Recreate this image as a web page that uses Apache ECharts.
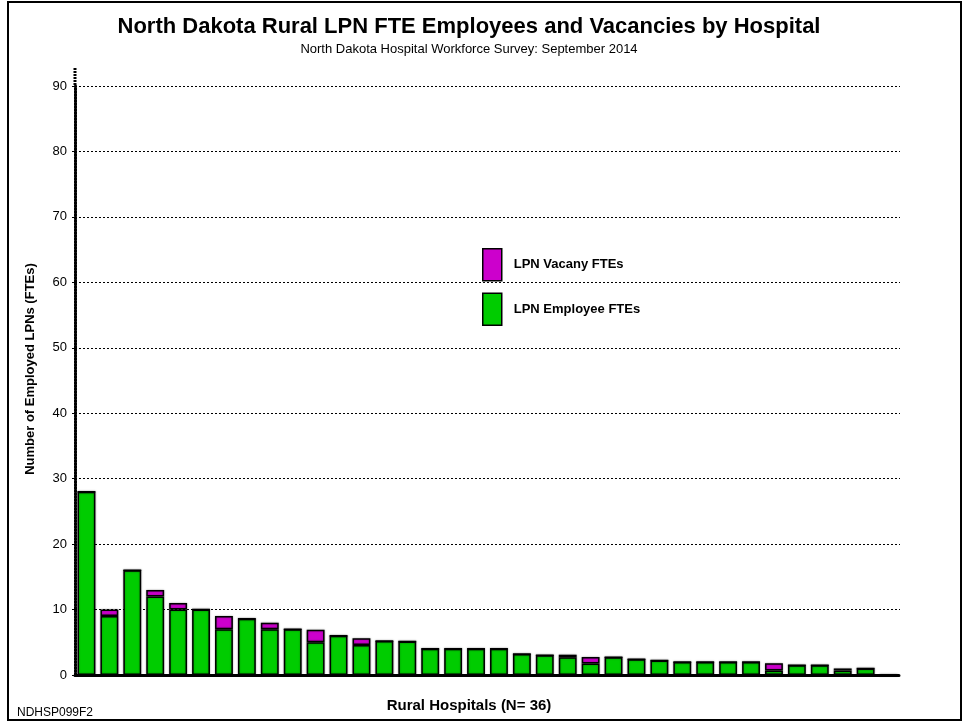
<!DOCTYPE html>
<html>
<head>
<meta charset="utf-8">
<script src="https://cdn.jsdelivr.net/npm/echarts@6/dist/echarts.min.js"></script>
<style>
	html, body { margin: 0; padding: 0; background: #fff; }
	#chart { width: 969px; height: 723px; }
</style>
</head>
<body>
<div id="chart"></div>
<script>
// 36 rural hospitals, sorted by total
const hospitals = Array.from({ length: 36 }, (_, i) => "H" + (i + 1))
const employeeFTEs = [28, 9, 16, 12, 10, 10, 7, 8.6, 7, 7, 5, 6, 4.6, 5.2, 5.1, 4, 4, 4, 4, 3.2, 3, 2.7, 1.75, 2.7, 2.4, 2.2, 2, 2, 2, 2, 0.7, 1.5, 1.5, 0.7, 1, 0]
const vacancyFTEs = [0, 1, 0, 1, 1, 0, 2, 0, 1, 0, 1.9, 0, 1, 0, 0, 0, 0, 0, 0, 0, 0, 0.4, 1, 0, 0, 0, 0, 0, 0, 0, 1.1, 0, 0, 0.3, 0, 0]
const yTicks = [0, 10, 20, 30, 40, 50, 60, 70, 80, 90]

const font = "'Liberation Sans', Arial, Helvetica, sans-serif"

const chart = echarts.init(document.getElementById("chart"))

const barStyle = color => ({
	color: color,
	borderColor: "#000",
	borderWidth: 1.5,
	shadowColor: "rgba(0, 0, 0, 0.35)",
	shadowBlur: 2
})

const option = {
	animation: false,
	backgroundColor: "#fff",
	textStyle: { fontFamily: font, color: "#000" },
	title: [
		{
			text: "North Dakota Rural LPN FTE Employees and Vacancies by Hospital",
			left: 464,
			top: 11,
			textAlign: "center",
			textStyle: { fontSize: 22, fontWeight: "bold", color: "#000", fontFamily: font }
		},
		{
			text: "North Dakota Hospital Workforce Survey: September 2014",
			left: 464,
			top: 38,
			textAlign: "center",
			textStyle: { fontSize: 13, fontWeight: "normal", color: "#000", fontFamily: font }
		},
		{
			text: "Rural Hospitals (N= 36)",
			left: 464,
			top: 693,
			textAlign: "center",
			textStyle: { fontSize: 15, fontWeight: "bold", color: "#000", fontFamily: font }
		},
		{
			text: "NDHSP099F2",
			left: 12,
			top: 702,
			textStyle: { fontSize: 12, fontWeight: "normal", color: "#000", fontFamily: font }
		}
	],
	legend: {
		orient: "vertical",
		left: 477,
		top: 243,
		icon: "rect",
		itemWidth: 19,
		itemHeight: 32,
		itemGap: 11,
		data: ["LPN Vacany FTEs", "LPN Employee FTEs"],
		itemStyle: { borderColor: "#000", borderWidth: 1.5 },
		textStyle: { fontSize: 13, fontWeight: "bold", color: "#000", fontFamily: font, padding: [0, 0, 0, 7] }
	},
	grid: {
		left: 75,
		right: 69,
		top: 86,
		bottom: 48
	},
	xAxis: {
		type: "category",
		data: hospitals,
		axisLabel: { show: false },
		axisTick: { show: false },
		axisLine: {
			lineStyle: { color: "#000", width: 3, type: [2, 1] }
		}
	},
	yAxis: {
		type: "value",
		min: 0,
		max: yTicks[yTicks.length - 1],
		interval: 10,
		axisLabel: { fontSize: 13, color: "#000", margin: 8, fontFamily: font },
		axisTick: { show: true, length: 3, lineStyle: { color: "#000" } },
		axisLine: {
			show: true,
			lineStyle: { color: "#000", width: 3, type: [2, 1] }
		},
		splitLine: {
			lineStyle: { color: "#000", width: 1, type: [2, 2] }
		}
	},
	series: [
		{
			name: "LPN Employee FTEs",
			type: "bar",
			stack: "fte",
			barWidth: "78%",
			data: employeeFTEs,
			itemStyle: barStyle("#00cc00")
		},
		{
			name: "LPN Vacany FTEs",
			type: "bar",
			stack: "fte",
			barWidth: "78%",
			data: vacancyFTEs,
			itemStyle: barStyle("#cc00cc")
		}
	],
	graphic: [
		{
			type: "rect",
			shape: { x: 8, y: 2, width: 953, height: 718 },
			style: { fill: "none", stroke: "#000", lineWidth: 2 },
			z: 100
		},
		{
			// axis line continues above the top tick
			type: "line",
			shape: { x1: 75, y1: 68, x2: 75, y2: 86 },
			style: { stroke: "#000", lineWidth: 3, lineDash: [2, 1] }
		},
		{
			type: "text",
			x: 30,
			y: 369,
			rotation: Math.PI / 2,
			style: {
				text: "Number of Employed LPNs (FTEs)",
				font: "bold 13px " + font,
				fill: "#000",
				align: "center",
				verticalAlign: "middle"
			}
		}
	]
}

chart.setOption(option)
</script>
</body>
</html>
